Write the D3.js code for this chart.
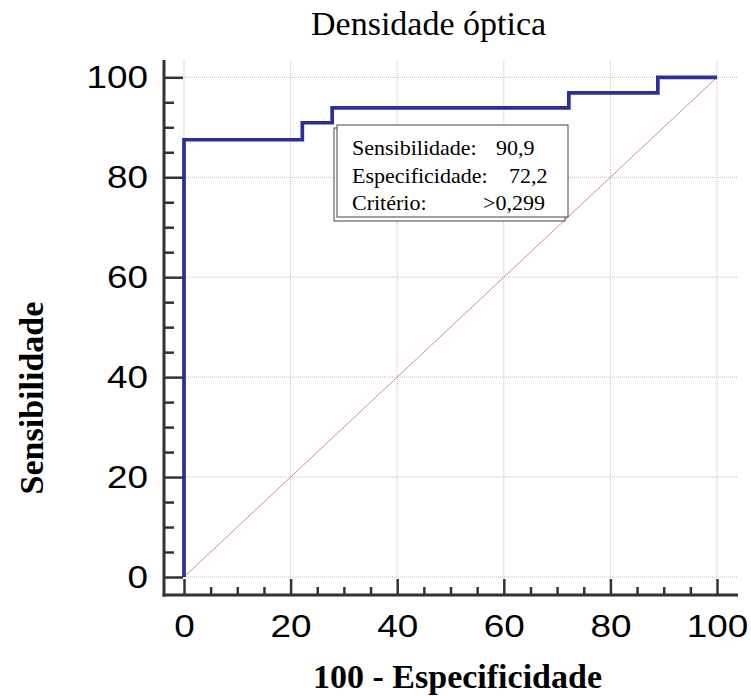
<!DOCTYPE html>
<html>
<head>
<meta charset="utf-8">
<script src="https://cdn.jsdelivr.net/npm/d3@7"></script>
<style>
  body { margin: 0; background: #fff; }
  svg { display: block; }
</style>
</head>
<body>
<svg id="chart" width="751" height="696"></svg>
<script>
// ROC curve steps (100 - especificidade, sensibilidade)
var fpr = [0, 0, 22.2, 27.8, 72.2, 88.9, 100];
var sens = [0, 87.5, 90.9, 93.9, 96.9, 100, 100];
var majorTicks = [0, 20, 40, 60, 80, 100];
var minorTicks = d3.range(0, 101, 5).filter(d => d % 20 !== 0);

var title = "Densidade óptica";
var xLabel = "100 - Especificidade";
var yLabel = "Sensibilidade";
var boxLabels = ["Sensibilidade:", "Especificidade:", "Critério:"];
var boxValues = ["90,9", "72,2", ">0,299"];

var svg = d3.select("#chart");

var x = d3.scaleLinear().domain([0, 100]).range([184, 717]);
var y = d3.scaleLinear().domain([0, 100]).range([577, 77.3]);

var axisX = 164, axisY = 595;

//gridlines
var grid = svg.append("g")
  .attr("stroke", "#bdbdbd")
  .attr("stroke-width", 1)
  .attr("stroke-dasharray", "1,1");

grid.selectAll(".vg")
  .data(majorTicks)
  .enter()
  .append("line")
  .attr("x1", d => x(d))
  .attr("x2", d => x(d))
  .attr("y1", 61)
  .attr("y2", 579);

grid.selectAll(".hg")
  .data(majorTicks)
  .enter()
  .append("line")
  .attr("x1", 184)
  .attr("x2", 737)
  .attr("y1", d => y(d))
  .attr("y2", d => y(d));

// diagonal reference
svg.append("line")
  .attr("x1", x(0))
  .attr("y1", y(0))
  .attr("x2", x(100))
  .attr("y2", y(100))
  .attr("stroke", "#d98a8a")
  .attr("stroke-width", 1);

// roc curve
var line = d3.line()
  .x(function(d, i) { return x(fpr[i]); })
  .y(function(d) { return y(d); })
  .curve(d3.curveStepAfter);

svg.append("path")
  .datum(sens)
  .attr("d", line)
  .attr("fill", "none")
  .attr("stroke", "#2b2f9c")
  .attr("stroke-width", 3.7)
  .attr("stroke-linejoin", "miter");

// axes
function styleAxis(g) {
  g.select(".domain").remove();
  g.selectAll(".tick line").attr("stroke", "#333").attr("stroke-width", 2.5);
  g.selectAll(".tick text")
    .attr("fill", "#000")
    .style("font-family", "'Liberation Sans', Arial, sans-serif")
    .style("font-size", "32px")
    .attr("textLength", d => String(d).length * 20.5)
    .attr("lengthAdjust", "spacingAndGlyphs");
}

svg.append("g")
  .attr("transform", "translate(0," + axisY + ")")
  .call(d3.axisBottom(x).tickValues(majorTicks).tickSize(-16).tickPadding(19))
  .call(styleAxis);

svg.append("g")
  .attr("transform", "translate(0," + axisY + ")")
  .call(d3.axisBottom(x).tickValues(minorTicks).tickSize(-8).tickFormat(""))
  .call(styleAxis);

svg.append("g")
  .attr("transform", "translate(" + axisX + ",0)")
  .call(d3.axisLeft(y).tickValues(majorTicks).tickSize(-19).tickPadding(16))
  .call(styleAxis);

svg.append("g")
  .attr("transform", "translate(" + axisX + ",0)")
  .call(d3.axisLeft(y).tickValues(minorTicks).tickSize(-10).tickFormat(""))
  .call(styleAxis);

svg.append("line")
  .attr("x1", axisX).attr("x2", axisX)
  .attr("y1", 60).attr("y2", axisY + 1.5)
  .attr("stroke", "#333").attr("stroke-width", 3);

svg.append("line")
  .attr("x1", axisX - 1.5).attr("x2", 738)
  .attr("y1", axisY).attr("y2", axisY)
  .attr("stroke", "#333").attr("stroke-width", 3);

// labels
svg.append("text")
  .attr("x", 311)
  .attr("y", 35)
  .style("font-family", "'Liberation Serif', 'Times New Roman', serif")
  .style("font-size", "34px")
  .text(title);

svg.append("text")
  .attr("x", 313)
  .attr("y", 688)
  .style("font-family", "'Liberation Serif', 'Times New Roman', serif")
  .style("font-size", "34px")
  .style("font-weight", "bold")
  .text(xLabel);

svg.append("text")
  .attr("transform", "translate(43,398) rotate(-90)")
  .attr("text-anchor", "middle")
  .style("font-family", "'Liberation Serif', 'Times New Roman', serif")
  .style("font-size", "34px")
  .style("font-weight", "bold")
  .text(yLabel);

// criterion box
var box = svg.append("g");
box.append("rect")
  .attr("x", 334).attr("y", 128)
  .attr("width", 231).attr("height", 93)
  .attr("fill", "#fff").attr("stroke", "#444").attr("stroke-width", 1);
box.append("rect")
  .attr("x", 337).attr("y", 125)
  .attr("width", 231).attr("height", 92)
  .attr("fill", "#fff").attr("stroke", "#444").attr("stroke-width", 1);

var valX = [496, 509, 483];
boxLabels.forEach(function(lbl, i) {
  var yy = 155 + i * 27.5;
  box.append("text")
    .attr("x", 352).attr("y", yy)
    .style("font-family", "'Liberation Serif', 'Times New Roman', serif")
    .style("font-size", "22px")
    .text(lbl);
  box.append("text")
    .attr("x", valX[i]).attr("y", yy)
    .style("font-family", "'Liberation Serif', 'Times New Roman', serif")
    .style("font-size", "22px")
    .text(boxValues[i]);
});
</script>
</body>
</html>
